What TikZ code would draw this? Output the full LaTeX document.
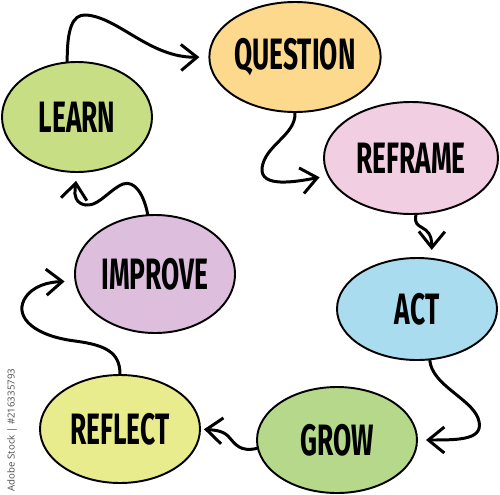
\documentclass[tikz,border=0pt]{standalone}
\usepackage{fontspec}
\usepackage{graphicx}
\setmainfont{Fira Sans}
\newfontfamily\stockfont{Open Sans}
\usetikzlibrary{shapes.geometric,arrows.meta}
\definecolor{learnfill}{RGB}{200,222,132}
\definecolor{questionfill}{RGB}{252,217,140}
\definecolor{reframefill}{RGB}{241,206,226}
\definecolor{actfill}{RGB}{170,220,240}
\definecolor{growfill}{RGB}{182,216,138}
\definecolor{reflectfill}{RGB}{232,236,140}
\definecolor{improvefill}{RGB}{221,190,221}
\newcommand{\stepword}[1]{\scalebox{0.6}[1]{\bfseries #1}}
\begin{document}
\begin{tikzpicture}[x=0.2mm,y=-0.2mm,
		blob/.style={ellipse,draw=black,line width=1.1pt,inner sep=0pt,font=\fontsize{25}{25}\selectfont},
		flow/.style={line width=1.7pt,line cap=round,-{Straight Barb[length=3.2mm,width=5.2mm]}}]
				\useasboundingbox (0,0) rectangle (500,494);
				\node[blob,fill=learnfill,minimum width=30mm,minimum height=22mm] (learn) at (77,117) {\stepword{LEARN}};
				\node[blob,fill=questionfill,minimum width=33.2mm,minimum height=22mm] (question) at (295,57) {\stepword{QUESTION}};
				\node[blob,fill=reframefill,minimum width=34.8mm,minimum height=22.4mm] (reframe) at (411,158) {\stepword{REFRAME}};
				\node[blob,fill=actfill,minimum width=32mm,minimum height=20.4mm] (act) at (417,309) {\stepword{ACT}};
				\node[blob,fill=growfill,minimum width=32mm,minimum height=21.2mm] (grow) at (337,440) {\stepword{GROW}};
				\node[blob,fill=reflectfill,minimum width=32mm,minimum height=21.6mm] (reflect) at (120,429) {\stepword{REFLECT}};
				\node[blob,fill=improvefill,minimum width=32mm,minimum height=23.6mm] (improve) at (155,274) {\stepword{IMPROVE}};
				\draw[flow,shorten >=1.8mm] (learn.100) .. controls (67,30) and (72,14) .. (86,15) .. controls (118,17) and (150,58) .. (question.west);
				\draw[flow,shorten >=1.6mm] (question.south) .. controls (296,135) and (265,145) .. (262,168) .. controls (260,188) and (295,182) .. (reframe.192);
				\draw[flow,shorten >=1.6mm] (reframe.275) .. controls (412,232) and (432,222) .. (act.74);
				\draw[flow,shorten >=1.6mm] (act.284) .. controls (432,385) and (470,398) .. (478,418) .. controls (486,440) and (460,440) .. (grow.east);
				\draw[flow,shorten >=0.6mm] (grow.186) .. controls (240,452) and (236,445) .. (228,436) .. controls (222,430) and (212,430) .. (reflect.east);
				\draw[flow,shorten >=2mm] (reflect.north) .. controls (120,352) and (105,345) .. (75,341) .. controls (35,336) and (15,318) .. (24,300) .. controls (32,285) and (50,282) .. (improve.185);
				\draw[flow,shorten >=1.6mm] (improve.97) .. controls (144,195) and (135,180) .. (123,184) .. controls (108,190) and (95,212) .. (80,203) .. controls (73,198) and (75,190) .. (learn.south);
				\node[rotate=90,font=\stockfont\fontsize{5.5}{6}\selectfont,text=black!70] (stock) at (12,430) {Adobe Stock | \#216335793};
			\end{tikzpicture}
\end{document}
